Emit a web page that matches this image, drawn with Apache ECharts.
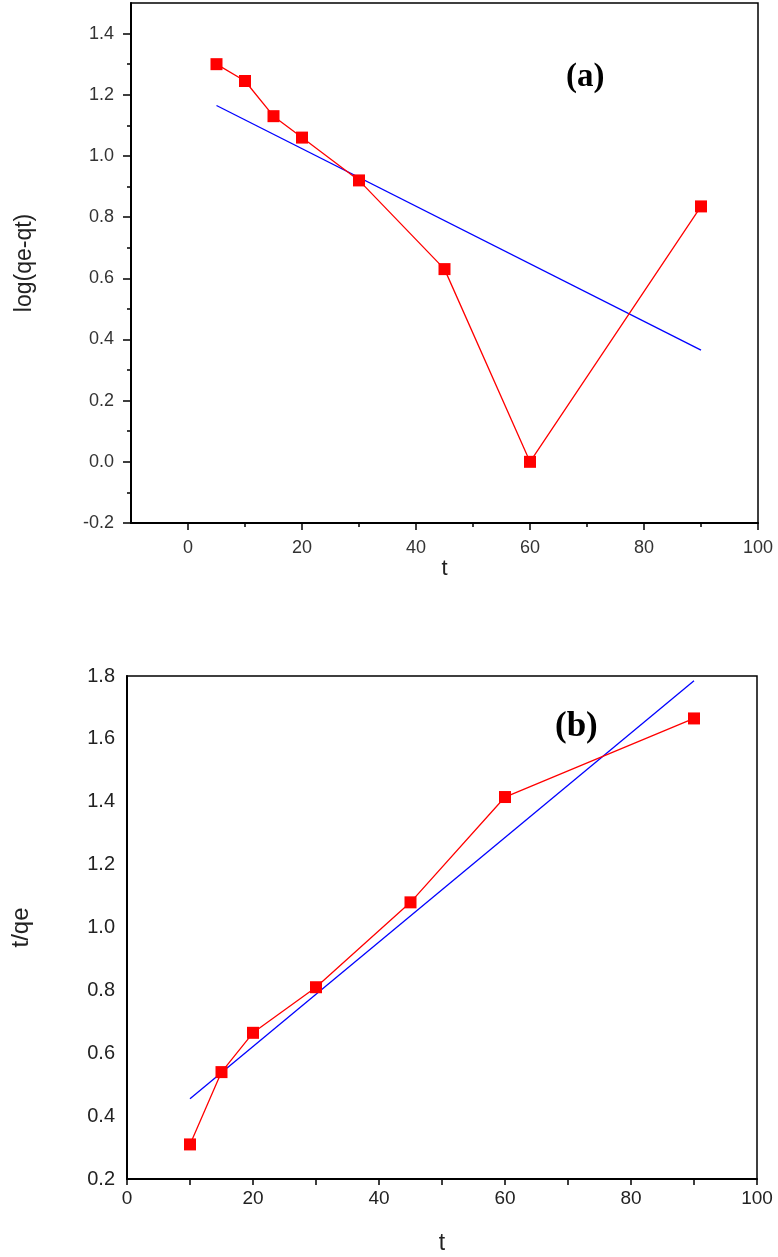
<!DOCTYPE html>
<html>
<head>
<meta charset="utf-8">
<script src="https://cdn.jsdelivr.net/npm/echarts@6/dist/echarts.min.js"></script>
<style>
  html, body { margin: 0; padding: 0; background: #fff; }
  #chart { width: 778px; height: 1257px; }
</style>
</head>
<body>
<div id="chart"></div>
<script>
// (a) pseudo-first-order: log(qe-qt) vs t
var timeA = [5, 10, 15, 20, 30, 45, 60, 90];
var logA = [1.30, 1.245, 1.13, 1.06, 0.92, 0.63, 0.0, 0.835];
var fitA = [[5, 1.165], [90, 0.365]];

// (b) pseudo-second-order: t/qe vs t
var timeB = [10, 15, 20, 30, 45, 60, 90];
var tqB = [0.31, 0.54, 0.665, 0.81, 1.08, 1.415, 1.665];
var fitB = [[10, 0.455], [90, 1.785]];

// ticks
var xTicksA = [0, 20, 40, 60, 80, 100];
var xMinorA = [10, 30, 50, 70, 90];
var yTicksA = [-0.2, 0, 0.2, 0.4, 0.6, 0.8, 1.0, 1.2, 1.4];
var yMinorA = [-0.1, 0.1, 0.3, 0.5, 0.7, 0.9, 1.1, 1.3];
var xTicksB = [0, 20, 40, 60, 80, 100];
var xAllTicksB = [0, 10, 20, 30, 40, 50, 60, 70, 80, 90, 100];
var yTicksB = [0.2, 0.4, 0.6, 0.8, 1.0, 1.2, 1.4, 1.6, 1.8];

function pairs(xs, ys) {
    var out = [];
    for (var i = 0; i < xs.length; i++) {
        out.push([xs[i], ys[i]]);
    }
    return out;
}

var font = 'Liberation Sans';
var chart = echarts.init(document.getElementById('chart'));

var option = {
    backgroundColor: '#fff',
    animation: false,
    grid: [
        { left: 131, top: 3, width: 627, height: 520, show: true, borderColor: '#000', borderWidth: 1.5, backgroundColor: 'transparent' },
        { left: 127, top: 676, width: 630, height: 503, show: true, borderColor: '#000', borderWidth: 1.5, backgroundColor: 'transparent' }
    ],
    xAxis: [{
        gridIndex: 0, type: 'value', min: -10, max: 100,
        splitLine: { show: false },
        axisLine: { onZero: false, lineStyle: { color: '#000', width: 2 } },
        axisTick: { customValues: xTicksA, length: 7, lineStyle: { color: '#000', width: 1.5 } },
        axisLabel: { customValues: xTicksA, fontFamily: font, fontSize: 18, color: '#333', margin: 16 },
        name: 't', nameLocation: 'middle', nameGap: 27,
        nameTextStyle: { fontFamily: font, fontSize: 22, color: '#222' }
    }, {
        gridIndex: 0, type: 'value', min: -10, max: 100, position: 'bottom',
        splitLine: { show: false },
        axisLine: { show: false, onZero: false },
        axisTick: { customValues: xMinorA, length: 4, lineStyle: { color: '#000', width: 1.5 } },
        axisLabel: { show: false }
    }, {
        gridIndex: 1, type: 'value', min: 0, max: 100,
        splitLine: { show: false },
        axisLine: { onZero: false, lineStyle: { color: '#000', width: 2 } },
        axisTick: { customValues: xAllTicksB, length: 6, lineStyle: { color: '#000', width: 1.5 } },
        axisLabel: { customValues: xTicksB, fontFamily: font, fontSize: 19, color: '#222', margin: 10 },
        name: 't', nameLocation: 'middle', nameGap: 53,
        nameTextStyle: { fontFamily: font, fontSize: 23, color: '#222' }
    }],
    yAxis: [{
        gridIndex: 0, type: 'value', min: -0.2, max: 1.5,
        splitLine: { show: false },
        axisLine: { onZero: false, lineStyle: { color: '#000', width: 2 } },
        axisTick: { customValues: yTicksA, length: 8, lineStyle: { color: '#000', width: 1.5 } },
        axisLabel: {
            customValues: yTicksA, fontFamily: font, fontSize: 18, color: '#333', margin: 17,
            formatter: function(v) { return v.toFixed(1); }
        },
        name: 'log(qe-qt)', nameLocation: 'middle', nameGap: 95, nameRotate: 90,
        nameTextStyle: { fontFamily: font, fontSize: 23, color: '#222' }
    }, {
        gridIndex: 0, type: 'value', min: -0.2, max: 1.5, position: 'left',
        splitLine: { show: false },
        axisLine: { show: false, onZero: false },
        axisTick: { customValues: yMinorA, length: 4, lineStyle: { color: '#000', width: 1.5 } },
        axisLabel: { show: false }
    }, {
        gridIndex: 1, type: 'value', min: 0.2, max: 1.8,
        splitLine: { show: false },
        axisLine: { onZero: false, lineStyle: { color: '#000', width: 2 } },
        axisTick: { show: false },
        axisLabel: {
            customValues: yTicksB, fontFamily: font, fontSize: 20, color: '#222', margin: 12,
            formatter: function(v) { return v.toFixed(1); }
        },
        name: 't/qe', nameLocation: 'middle', nameGap: 94, nameRotate: 90,
        nameTextStyle: { fontFamily: font, fontSize: 24, color: '#222' }
    }],
    graphic: [
        { type: 'text', left: 566, top: 61, style: { text: '(a)', font: 'bold 33px "Liberation Serif"', fill: '#000' } },
        { type: 'text', left: 555, top: 709, style: { text: '(b)', font: 'bold 35px "Liberation Serif"', fill: '#000' } }
    ],
    series: [{
        type: 'line', xAxisIndex: 0, yAxisIndex: 0,
        data: fitA, showSymbol: false, symbol: 'none',
        lineStyle: { color: '#0000ff', width: 1.3 }
    }, {
        type: 'line', xAxisIndex: 0, yAxisIndex: 0,
        data: pairs(timeA, logA),
        symbol: 'rect', symbolSize: 12,
        itemStyle: { color: '#ff0000' },
        lineStyle: { color: '#ff0000', width: 1.3 }
    }, {
        type: 'line', xAxisIndex: 2, yAxisIndex: 2,
        data: fitB, showSymbol: false, symbol: 'none',
        lineStyle: { color: '#0000ff', width: 1.3 }
    }, {
        type: 'line', xAxisIndex: 2, yAxisIndex: 2,
        data: pairs(timeB, tqB),
        symbol: 'rect', symbolSize: 12,
        itemStyle: { color: '#ff0000' },
        lineStyle: { color: '#ff0000', width: 1.3 }
    }]
};

chart.setOption(option);
</script>
</body>
</html>
